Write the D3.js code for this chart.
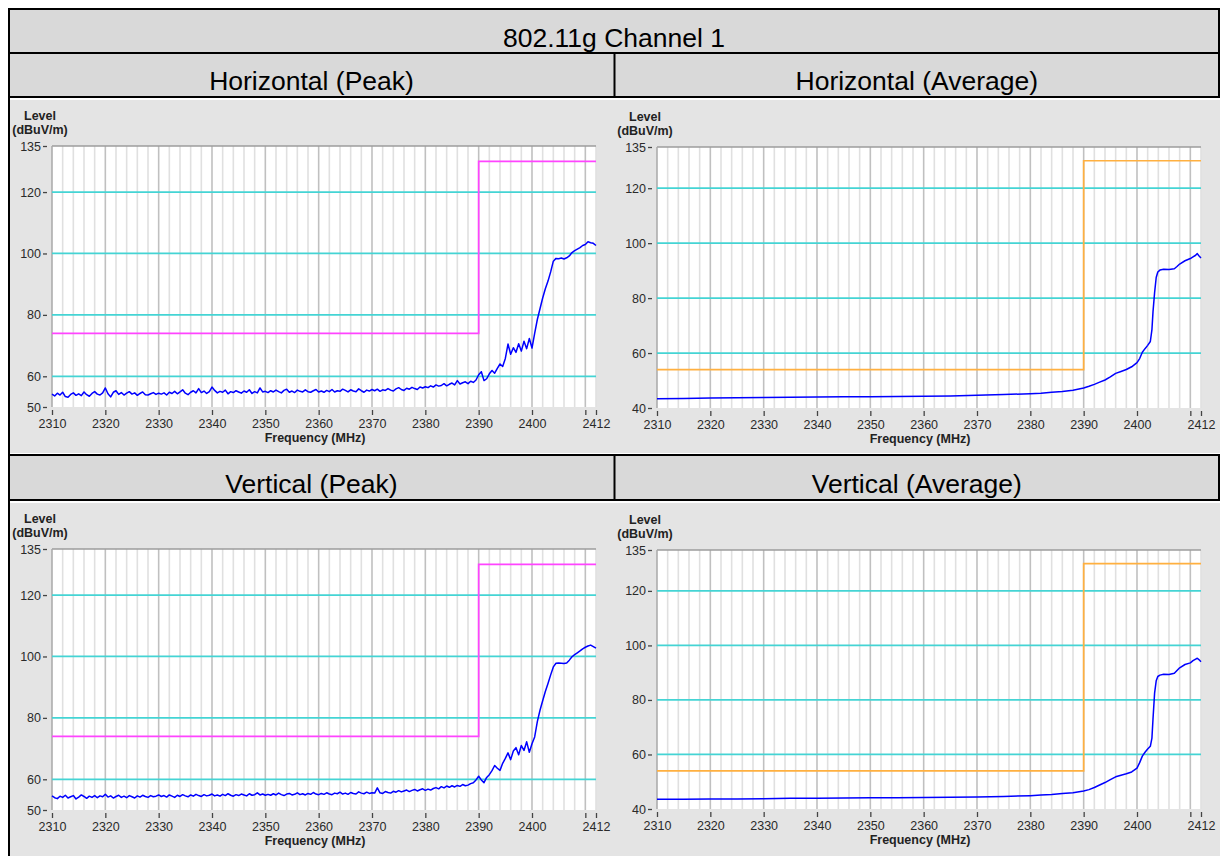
<!DOCTYPE html>
<html><head><meta charset="utf-8">
<script src="https://cdn.jsdelivr.net/npm/d3@7/dist/d3.min.js"></script>
<style>body{margin:0;background:#fff}svg{display:block}</style>
</head><body>
<svg id="c" width="1220" height="856"></svg>
<script>
// ---------------- data ----------------
const mainTitle = "802.11g Channel 1";
const panelTitles = ["Horizontal (Peak)", "Horizontal (Average)", "Vertical (Peak)", "Vertical (Average)"];
const yAxisTitle = ["Level", "(dBuV/m)"];
const xAxisTitle = "Frequency (MHz)";
const xTickValues = [2310, 2320, 2330, 2340, 2350, 2360, 2370, 2380, 2390, 2400, 2410, 2412];
const xTickLabels = ["2310", "2320", "2330", "2340", "2350", "2360", "2370", "2380", "2390", "2400", "", "2412"];
const xMajorGrid = [2320, 2330, 2340, 2350, 2360, 2370, 2380, 2390, 2400, 2410];
const xMinorGrid = [2312,2314,2316,2318,2322,2324,2326,2328,2332,2334,2336,2338,2342,2344,2346,2348,
  2352,2354,2356,2358,2362,2364,2366,2368,2372,2374,2376,2378,2382,2384,2386,2388,2392,2394,2396,2398,
  2402,2404,2406,2408,2412];
const yTicksPeak = [50, 60, 80, 100, 120, 135];
const yTicksAvg = [40, 60, 80, 100, 120, 135];
const cyanGrid = [60, 80, 100, 120];
const limitFreq = [2310, 2390, 2390, 2412];
const peakLimit = [74, 74, 130, 130];
const avgLimit = [54, 54, 130, 130];

// peak sweep: 2310 .. 2412 MHz in 0.5 MHz steps
const peakFreq = d3.range(2310, 2412.001, 0.5);
const hPeak = [
  54.2,53.6,54.5,53.9,54.8,53.4,53.2,54.1,54.6,53.8,54.3,53.7,54.9,54.0,53.5,54.4,55.0,54.2,53.9,54.6,56.2,
  54.3,53.3,54.8,55.3,54.1,54.7,53.9,54.5,55.0,54.2,54.6,53.8,54.4,54.9,54.0,53.9,54.3,54.7,54.1,54.5,
  54.2,54.6,53.9,54.8,54.4,55.1,54.3,54.9,55.6,54.5,54.0,54.8,55.3,54.6,56.0,54.7,55.2,54.4,55.0,56.5,
  55.4,54.6,55.1,54.8,55.5,54.3,55.0,54.7,55.3,54.9,54.5,55.2,54.8,55.6,54.4,55.0,54.6,56.2,54.9,55.1,
  54.7,55.3,54.9,55.5,55.0,54.6,55.4,55.8,54.8,55.2,54.7,55.5,55.1,54.9,55.6,55.0,54.8,55.3,55.7,54.9,
  55.2,54.8,55.4,55.0,55.7,54.9,55.3,55.1,55.8,55.4,54.9,55.6,55.2,55.0,55.9,55.3,54.8,55.5,55.2,55.7,
  55.3,55.8,55.1,55.6,55.4,56.0,55.5,55.2,55.9,56.3,55.7,55.4,56.1,55.8,56.4,56.0,55.7,56.5,56.2,56.6,
  56.3,56.9,56.5,57.2,56.8,57.0,57.6,56.9,57.4,57.8,57.2,58.6,57.5,57.9,58.2,57.6,58.4,58.0,58.8,60.5,
  61.5,58.6,59.2,60.8,61.9,61.0,62.6,64.0,63.2,65.8,70.5,67.2,69.3,67.8,70.6,68.2,71.4,69.0,72.3,69.2,
  74.0,78.5,82.0,85.5,88.5,91.0,94.0,97.5,98.4,98.3,98.5,98.2,98.6,99.2,100.3,100.9,101.4,101.9,102.6,102.9,103.8,103.5,103.3,102.6
];
const vPeak = [
  54.6,54.0,53.7,54.5,54.1,54.8,53.9,54.3,54.7,53.6,54.2,54.9,54.4,53.8,54.5,54.1,54.7,54.0,54.6,54.3,55.1,
  54.2,54.6,53.9,54.4,54.8,54.1,54.5,54.0,54.7,54.3,53.9,54.6,54.2,54.8,54.4,54.1,54.7,54.3,54.5,54.9,
  54.4,54.7,54.2,54.9,54.5,54.1,54.8,54.4,55.0,54.6,54.3,54.9,54.5,55.1,54.7,54.4,55.0,54.6,54.8,55.2,
  54.6,54.9,54.5,55.1,54.7,55.3,54.8,54.5,55.0,54.7,55.2,54.9,54.6,55.3,54.8,55.0,55.6,54.9,55.2,54.8,
  55.1,54.8,55.3,54.9,55.5,55.0,54.7,55.2,55.4,54.9,55.1,55.6,55.0,55.3,54.9,55.4,55.1,55.7,55.2,55.0,
  55.4,55.1,55.6,55.2,55.0,55.5,55.3,55.8,55.2,55.5,55.1,55.7,55.4,55.2,55.9,55.5,55.3,55.8,55.4,55.6,
  55.5,57.2,55.6,55.4,56.0,55.7,55.5,56.1,55.8,56.3,55.9,56.2,56.5,56.0,56.4,56.7,56.2,56.6,56.9,56.4,
  56.8,56.5,57.0,57.3,56.9,57.6,57.2,57.8,57.4,57.9,57.5,58.0,57.7,58.3,57.9,58.1,58.6,58.9,59.8,61.0,
  59.8,58.9,60.6,61.5,62.8,64.5,63.6,62.9,65.2,66.8,68.6,66.4,69.2,70.3,68.0,71.0,69.4,72.2,68.8,71.6,
  73.8,78.8,82.5,85.6,88.6,91.2,94.0,96.6,97.8,97.9,97.8,97.7,97.9,98.8,99.9,100.6,101.2,101.8,102.5,103.0,103.4,103.7,103.2,102.7
];

// average sweep (smooth trace)
const avgFreq = [2310,2315,2320,2325,2330,2335,2340,2345,2350,2355,2360,2365,2370,2375,2380,2382,2384,2386,2388,
  2390,2391,2392,2393,2394,2395,2396,2397,2398,2399,2400,2400.5,2401,2401.5,2402,2402.5,2402.8,2403,2403.3,2403.6,
  2403.9,2404.3,2405,2406,2407,2407.5,2408,2409,2410,2410.5,2411,2411.3,2411.6,2412];
const hAvg = [43.4,43.5,43.6,43.7,43.8,43.9,44.0,44.1,44.1,44.2,44.3,44.4,44.6,44.9,45.2,45.4,45.7,46.0,46.5,
  47.3,47.9,48.6,49.4,50.2,51.3,52.6,53.3,54.0,55.0,56.5,58.0,60.3,61.6,62.8,64.2,68.5,75.0,82.0,87.5,
  89.5,90.2,90.5,90.4,90.7,91.5,92.4,93.6,94.4,95.0,95.6,96.2,95.4,94.6];
const vAvg = [43.6,43.6,43.7,43.7,43.8,43.9,43.9,44.0,44.1,44.1,44.2,44.3,44.4,44.6,44.9,45.1,45.3,45.7,46.0,
  46.6,47.1,47.9,48.8,49.7,50.8,51.8,52.4,52.9,53.6,55.0,57.0,59.4,60.8,62.0,63.0,66.0,73.0,82.5,87.0,
  88.6,89.1,89.4,89.3,89.8,90.8,91.8,93.0,93.6,94.4,95.0,95.3,94.8,94.0];

// ---------------- drawing ----------------
const svg = d3.select("#c");
const FONT = "'Liberation Sans', Arial, sans-serif";

svg.append("rect").attr("x",0).attr("y",0).attr("width",1220).attr("height",856).attr("fill","#fff");
[[9,9,1210,44],[9,53,1210,44],[9,455,1210,45]].forEach(r=>{
  svg.append("rect").attr("x",r[0]).attr("y",r[1]).attr("width",r[2]).attr("height",r[3]).attr("fill","#d9d9d9");
});
[[10,100,1210,353],[10,503,1210,353]].forEach(r=>{
  svg.append("rect").attr("x",r[0]).attr("y",r[1]).attr("width",r[2]).attr("height",r[3]).attr("fill","#e4e4e4");
});

const bl = svg.append("g").attr("stroke","#000").attr("stroke-width",2);
[[8,9,1220,9],[8,53,1220,53],[8,97,1220,97],[8,455,1220,455],[8,500,1220,500],
 [9,8,9,856],[614.5,53,614.5,97],[614.5,455,614.5,501],[1219,8,1219,97],[1219,455,1219,500]].forEach(l=>{
  bl.append("line").attr("x1",l[0]).attr("y1",l[1]).attr("x2",l[2]).attr("y2",l[3]);
});

const tt = svg.append("g").attr("font-family",FONT).attr("font-size",26.5).attr("fill","#000").attr("text-anchor","middle");
tt.append("text").attr("x",614).attr("y",47).text(mainTitle);
[[311.5,90],[916.8,90],[311.5,493],[916.8,493]].forEach((p,i)=>{
  tt.append("text").attr("x",p[0]).attr("y",p[1]).text(panelTitles[i]);
});

function drawChart(o){
  const g = svg.append("g");
  const x = d3.scaleLinear().domain([2310,2412]).range([o.l,o.r]);
  const y = d3.scaleLinear().domain(o.yDomain).range([o.b,o.t]);
  g.append("rect").attr("x",o.l).attr("y",o.t).attr("width",o.r-o.l).attr("height",o.b-o.t).attr("fill","#fff");
  g.selectAll(".mn").data(xMinorGrid).join("line")
    .attr("x1",d=>x(d)).attr("x2",d=>x(d)).attr("y1",o.t).attr("y2",o.b)
    .attr("stroke","#e0e0e0").attr("stroke-width",1.6);
  g.selectAll(".mj").data(xMajorGrid).join("line")
    .attr("x1",d=>x(d)).attr("x2",d=>x(d)).attr("y1",o.t).attr("y2",o.b)
    .attr("stroke","#c0c0c0").attr("stroke-width",1.6);
  g.append("line").attr("x1",o.l).attr("x2",o.r).attr("y1",o.t).attr("y2",o.t).attr("stroke","#9c9c9c").attr("stroke-width",1.5);
  g.append("line").attr("x1",o.l).attr("x2",o.l).attr("y1",o.t).attr("y2",o.b).attr("stroke","#a8a8a8").attr("stroke-width",1.5);
  g.selectAll(".cy").data(cyanGrid).join("line")
    .attr("x1",o.l).attr("x2",o.r).attr("y1",d=>y(d)).attr("y2",d=>y(d))
    .attr("stroke","#44d4d4").attr("stroke-width",1.7);
  const lim = limitFreq.map((f,i)=>[f,o.limit[i]]);
  g.append("path").datum(lim)
    .attr("d",d3.line().x(d=>x(d[0])).y(d=>y(d[1])))
    .attr("fill","none").attr("stroke",o.limitColor).attr("stroke-width",1.7);
  const tr = o.freq.map((f,i)=>[f,o.vals[i]]);
  g.append("path").datum(tr)
    .attr("d",d3.line().x(d=>x(d[0])).y(d=>y(d[1])))
    .attr("fill","none").attr("stroke","#0000ff").attr("stroke-width",1.5).attr("stroke-linejoin","round");
  const ya = g.append("g").attr("transform",`translate(${o.l-5},0)`)
    .call(d3.axisLeft(y).tickValues(o.yTicks).tickSize(4).tickPadding(2).tickFormat(d3.format("d")));
  const xa = g.append("g").attr("transform",`translate(0,${o.b+3})`)
    .call(d3.axisBottom(x).tickValues(xTickValues).tickSize(5).tickPadding(4).tickFormat((d,i)=>xTickLabels[i]));
  [ya,xa].forEach(a=>{
    a.select(".domain").remove();
    a.selectAll("line").attr("stroke","#444").attr("stroke-width",1.3);
    a.selectAll("text").attr("font-family",FONT).attr("font-size",12.5).attr("fill","#2a2a2a");
  });
  const at = g.append("g").attr("font-family",FONT).attr("font-weight","bold").attr("font-size",12.5)
    .attr("fill","#222").attr("text-anchor","middle");
  at.append("text").attr("x",o.l-12).attr("y",o.t-26).text(yAxisTitle[0]);
  at.append("text").attr("x",o.l-12).attr("y",o.t-12).text(yAxisTitle[1]);
  at.append("text").attr("x",(o.l+o.r)/2-9).attr("y",o.b+35).text(xAxisTitle);
}

drawChart({l:52,r:596,t:146,b:407,yDomain:[50,135],yTicks:yTicksPeak,limit:peakLimit,limitColor:"#ff44ff",freq:peakFreq,vals:hPeak});
drawChart({l:657,r:1201,t:147,b:408,yDomain:[40,135],yTicks:yTicksAvg,limit:avgLimit,limitColor:"#ffb040",freq:avgFreq,vals:hAvg});
drawChart({l:52,r:596,t:549,b:810,yDomain:[50,135],yTicks:yTicksPeak,limit:peakLimit,limitColor:"#ff44ff",freq:peakFreq,vals:vPeak});
drawChart({l:657,r:1201,t:550,b:809,yDomain:[40,135],yTicks:yTicksAvg,limit:avgLimit,limitColor:"#ffb040",freq:avgFreq,vals:vAvg});
</script>
</body></html>
